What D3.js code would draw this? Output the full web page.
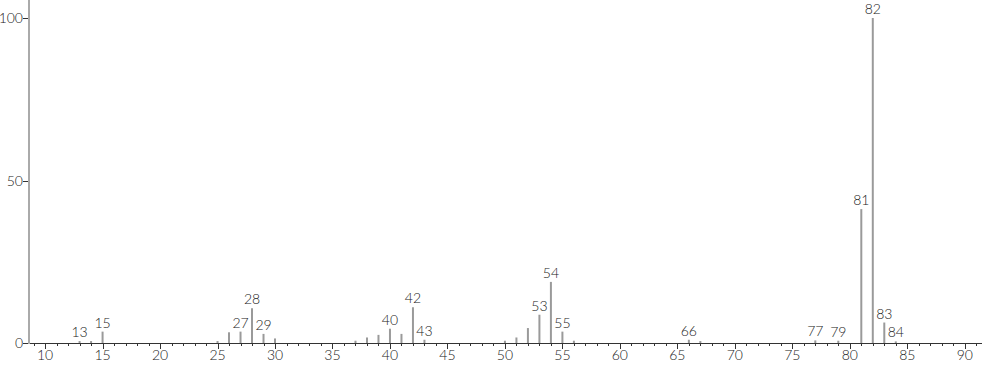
<!DOCTYPE html>
<html><head><meta charset="utf-8">
<script src="https://cdn.jsdelivr.net/npm/d3@7/dist/d3.min.js"></script>
<style>body{margin:0;background:#fff}svg{display:block}text{font-family:"Lato","DejaVu Sans",sans-serif;font-weight:300;fill:#222}</style>
</head><body><svg id="c" width="982" height="365"></svg>
<script>
const mzValues = [13,14,15,25,26,27,28,29,30,37,38,39,40,41,42,43,50,51,52,53,54,55,56,66,67,77,79,81,82,83,84];
const intensities = [0.6,0.6,3.5,0.6,3.3,3.5,10.7,2.8,1.4,0.7,1.7,2.5,4.4,2.8,11.0,1.0,0.7,1.7,4.6,8.7,18.8,3.5,0.7,1.0,0.6,0.8,0.7,41.2,100,6.3,0.5];
const labeledMz = [13,15,27,28,29,40,42,43,53,54,55,66,77,79,81,82,83,84];
const xMajorTicks = [10,15,20,25,30,35,40,45,50,55,60,65,70,75,80,85,90];
const yTicks = [0,50,100];

const svg = d3.select("#c");
const x = d3.scaleLinear().domain([8.6, 91.5]).range([29, 982]);
const y = d3.scaleLinear().domain([0, 100]).range([343, 18]);
const data = mzValues.map((m,i)=>({mz:m, v:intensities[i]}));

// peaks
svg.append("g").selectAll("line").data(data).join("line")
  .attr("x1", d=>x(d.mz)).attr("x2", d=>x(d.mz))
  .attr("y1", y(0)).attr("y2", d=>y(d.v))
  .attr("stroke", "#9a9a9a").attr("stroke-width", 2);

// x axis
const xg = svg.append("g");
xg.append("line").attr("x1", 29).attr("x2", 982).attr("y1", y(0)+0.5).attr("y2", y(0)+0.5).attr("stroke", "#333");
const minor = d3.range(9, 92).filter(v=>v%5!==0);
xg.selectAll("line.mi").data(minor).join("line").attr("class","mi")
  .attr("x1", d=>Math.round(x(d))+0.5).attr("x2", d=>Math.round(x(d))+0.5)
  .attr("y1", y(0)).attr("y2", y(0)+3).attr("stroke", "#333");
xg.selectAll("line.ma").data(xMajorTicks).join("line").attr("class","ma")
  .attr("x1", d=>Math.round(x(d))+0.5).attr("x2", d=>Math.round(x(d))+0.5)
  .attr("y1", y(0)).attr("y2", y(0)+6).attr("stroke", "#333");
xg.selectAll("text").data(xMajorTicks).join("text")
  .attr("x", d=>x(d)).attr("y", 360).attr("text-anchor","middle")
  .attr("font-size", 14).text(d=>d);

// y axis
const yg = svg.append("g");
yg.append("line").attr("x1", 29).attr("x2", 29).attr("y1", 0).attr("y2", y(0)+1).attr("stroke", "#aaa").attr("stroke-width", 2);
yg.selectAll("line.t").data(yTicks).join("line").attr("class","t")
  .attr("x1", 23).attr("x2", 28).attr("y1", d=>Math.round(y(d))+0.5).attr("y2", d=>Math.round(y(d))+0.5).attr("stroke","#333");
yg.selectAll("text").data(yTicks).join("text")
  .attr("x", 23).attr("y", d=>y(d)+5).attr("text-anchor","end")
  .attr("font-size", 14).text(d=>d);

// peak labels
const lab = data.filter(d=>labeledMz.includes(d.mz));
svg.append("g").selectAll("text").data(lab).join("text")
  .attr("x", d=>x(d.mz)).attr("y", d=>y(d.v)-4).attr("text-anchor","middle")
  .attr("font-size", 14).text(d=>d.mz);
</script></body></html>
